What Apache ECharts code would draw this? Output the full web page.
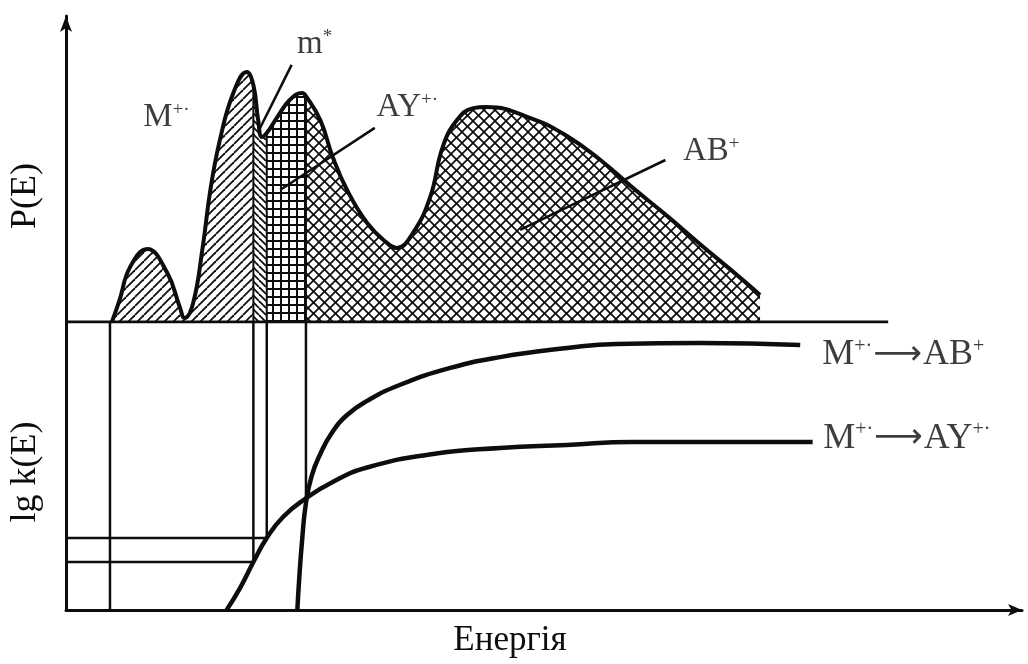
<!DOCTYPE html>
<html>
<head>
<meta charset="utf-8">
<script src="https://cdn.jsdelivr.net/npm/echarts@6/dist/echarts.min.js"></script>
<style>
  html, body { margin: 0; padding: 0; background: #fff; }
  #chart { width: 1028px; height: 664px; }
</style>
</head>
<body>
<div id="chart"></div>
<script>
// P(E): internal energy distribution of the molecular ion (upper panel)
const pCurve = [
  [4.8, 0], [5.6, 7.3], [6.7, 18.3], [8.5, 24.3], [10.6, 16.3], [11.9, 5], [12.4, 1.3],
  [13.3, 6.3], [14.3, 25], [15.1, 44], [16.1, 60.7], [17.5, 76.3], [18.9, 83.3],
  [19.6, 79], [20.1, 67.3], [20.5, 61.7], [21.0, 63], [22.1, 68.3], [23.4, 74],
  [24.7, 76.3], [25.1, 75.3], [26.6, 67.3], [27.9, 55], [29.4, 44], [31.5, 33],
  [33.6, 26.3], [34.6, 24.7], [36.3, 29.7], [38.1, 41.7], [39.4, 58.3], [40.9, 67.3],
  [42.6, 71.3], [44.0, 71.7], [48.8, 67.7], [52.4, 62], [55.9, 54], [59.3, 44.7],
  [62.9, 35.3], [66.3, 26], [69.8, 16.7], [72.6, 9]
];
// energy edges of the four shaded ion regions: M+·, m*, AY+·, AB+
const regionEdges = [4.8, 19.6, 21.0, 25.1, 72.6];
const regionHatch = ['fwd', 'back', 'grid', 'cross'];
// end of the P(E) baseline
const baselineEnd = 86;

// lg k(E) for the two decomposition channels (lower panel)
const kAB = [
  [24.2, 0], [24.4, 10.7], [24.7, 23.3], [25.1, 35.7], [25.7, 44.7], [26.6, 52],
  [27.8, 59], [29.4, 65], [31.5, 69.7], [34.9, 75], [40.2, 80.7], [45.4, 84.3],
  [52.4, 87.3], [57.6, 88.7], [66.3, 89], [76.8, 88.3]
];
const kAY = [
  [16.8, 0], [18.2, 7.3], [19.6, 16], [21.0, 24], [22.7, 31], [25.0, 37],
  [27.9, 42.7], [31.5, 47.5], [38.4, 52], [45.4, 54], [52.4, 55], [59.3, 56],
  [78.1, 56]
];
// threshold construction: vertical drops [energy, lg k where they stop]
const dropLines = [[4.6, 0], [19.6, 16], [21.0, 24], [25.1, 36.7]];
// horizontal reads onto the lg k axis [lg k, energy where they stop]
const readLines = [[16, 19.6], [24, 21.0]];

// labels (rich-text markup) and their anchors in data units
const upperLabels = [
  { text: '{t|M}{s|+·}', at: [10.5, 68.3] },
  { text: '{t|m}{s|*}', at: [26.0, 92.7] },
  { text: '{t|AY}{s|+·}', at: [35.7, 71.7] },
  { text: '{t|AB}{s|+}', at: [67.5, 57] }
];
const leaders = [
  [[23.6, 85.7], [20.2, 64]],
  [[32.3, 64.7], [22.4, 44]],
  [[62.7, 54], [47.5, 30.7]]
];
const channelLabels = [
  { text: '{T|M}{S|+·}{a|⟶}{T|AB}{S|+}', at: [79.1, 85] },
  { text: '{T|M}{S|+·}{a|⟶}{T|AY}{S|+·}', at: [79.2, 57.3] }
];

const INK = '#0d0d0d';
const SERIF = '"Liberation Serif", "DejaVu Serif", serif';

// tiled hatch patterns for the shaded areas
function hatch(kind) {
  const size = { fwd: 9, back: 7, grid: 8, cross: 11 }[kind];
  const c = document.createElement('canvas');
  c.width = c.height = size;
  const g = c.getContext('2d');
  g.strokeStyle = INK;
  g.fillStyle = INK;
  g.lineWidth = kind === 'cross' ? 1.7 : 1.8;
  const diag = (up) => {
    for (const o of [-size, 0, size]) {
      g.beginPath();
      if (up) { g.moveTo(o, size); g.lineTo(o + size, 0); }
      else { g.moveTo(o, 0); g.lineTo(o + size, size); }
      g.stroke();
    }
  };
  if (kind === 'fwd') diag(true);
  if (kind === 'back') diag(false);
  if (kind === 'cross') { diag(true); diag(false); }
  if (kind === 'grid') { g.fillRect(0, 0, 2, size); g.fillRect(0, 0, size, 2); }
  return c;
}

const richStyles = {
  t: { fontFamily: SERIF, fontSize: 33, color: INK },
  s: { fontFamily: SERIF, fontSize: 19, color: INK, verticalAlign: 'top' },
  T: { fontFamily: SERIF, fontSize: 36, color: INK },
  S: { fontFamily: SERIF, fontSize: 20, color: INK, verticalAlign: 'top' },
  a: { fontFamily: '"DejaVu Sans", sans-serif', fontSize: 34, color: INK, padding: [0, 1, 0, 1] }
};

const series = [];

// shaded regions under P(E)
for (let i = 0; i < regionHatch.length; i++) {
  const a = regionEdges[i], b = regionEdges[i + 1];
  series.push({
    type: 'line', xAxisIndex: 0, yAxisIndex: 0, z: 1,
    smooth: 0.45, symbol: 'none', silent: true,
    lineStyle: { width: 0 },
    areaStyle: { color: { image: hatch(regionHatch[i]), repeat: 'repeat' }, opacity: 1 },
    data: pCurve.filter(p => p[0] >= a && p[0] <= b)
  });
}

// P(E) outline
series.push({
  type: 'line', xAxisIndex: 0, yAxisIndex: 0, z: 4,
  smooth: 0.45, symbol: 'none', silent: true,
  lineStyle: { color: INK, width: 4 },
  data: pCurve
});

// P(E) baseline
series.push({
  type: 'line', xAxisIndex: 0, yAxisIndex: 0, z: 5, symbol: 'none', silent: true,
  lineStyle: { color: INK, width: 3 },
  data: [[0, 0], [baselineEnd, 0]]
});

// region borders in the upper panel
regionEdges.slice(1, 4).forEach(x => {
  const top = pCurve.find(p => p[0] === x)[1];
  series.push({
    type: 'line', xAxisIndex: 0, yAxisIndex: 0, z: 3, symbol: 'none', silent: true,
    lineStyle: { color: INK, width: 2 },
    data: [[x, 0], [x, top]]
  });
});

// vertical drops in the lower panel
dropLines.forEach(([x, k]) => {
  series.push({
    type: 'line', xAxisIndex: 1, yAxisIndex: 1, z: 3, symbol: 'none', silent: true,
    lineStyle: { color: INK, width: 2.5 },
    data: [[x, k], [x, 96]]
  });
});

// horizontal reads onto the lg k axis
readLines.forEach(([k, x]) => {
  series.push({
    type: 'line', xAxisIndex: 1, yAxisIndex: 1, z: 3, symbol: 'none', silent: true,
    lineStyle: { color: INK, width: 2.5 },
    data: [[0, k], [x, k]]
  });
});

// lg k(E) curves
[kAB, kAY].forEach(d => {
  series.push({
    type: 'line', xAxisIndex: 1, yAxisIndex: 1, z: 4,
    smooth: 0.5, symbol: 'none', silent: true,
    lineStyle: { color: INK, width: 4.5 },
    data: d
  });
});

// leader lines from labels to regions
leaders.forEach(d => {
  series.push({
    type: 'line', xAxisIndex: 0, yAxisIndex: 0, z: 6, symbol: 'none', silent: true,
    lineStyle: { color: INK, width: 2.5 },
    data: d
  });
});

// region labels
series.push({
  type: 'scatter', xAxisIndex: 0, yAxisIndex: 0, z: 7, silent: true,
  symbolSize: 1, itemStyle: { color: 'transparent' },
  label: { show: true, position: 'inside', formatter: p => p.data.text, rich: richStyles },
  data: upperLabels.map(l => ({ value: l.at, text: l.text }))
});

// channel labels
series.push({
  type: 'scatter', xAxisIndex: 1, yAxisIndex: 1, z: 7, silent: true,
  symbolSize: 1, itemStyle: { color: 'transparent' },
  label: { show: true, position: 'inside', align: 'left', formatter: p => p.data.text, rich: richStyles },
  data: channelLabels.map(l => ({ value: l.at, text: l.text }))
});

const hidden = { axisLine: { show: false }, axisTick: { show: false }, axisLabel: { show: false }, splitLine: { show: false } };
const nameStyle = { fontFamily: SERIF, fontSize: 36, color: INK };

const option = {
  backgroundColor: '#fff',
  animation: false,
  grid: [
    { left: 66, right: 6, top: 16, height: 306 },
    { left: 66, right: 6, top: 322, height: 288 }
  ],
  xAxis: [
    Object.assign({ type: 'value', gridIndex: 0, min: 0, max: 100 }, hidden),
    {
      type: 'value', gridIndex: 1, min: 0, max: 100,
      axisLine: { show: true, symbol: ['none', 'arrow'], symbolSize: [9, 14], lineStyle: { color: INK, width: 3 } },
      axisTick: { show: false }, axisLabel: { show: false }, splitLine: { show: false },
      name: 'Енергія', nameLocation: 'middle', nameGap: 13,
      nameTextStyle: Object.assign({}, nameStyle, { fontSize: 35, padding: [0, 68, 0, 0] })
    }
  ],
  yAxis: [
    {
      type: 'value', gridIndex: 0, min: 0, max: 102,
      axisLine: { show: true, symbol: ['none', 'arrow'], symbolSize: [9, 16], lineStyle: { color: INK, width: 3 } },
      axisTick: { show: false }, axisLabel: { show: false }, splitLine: { show: false },
      name: 'P(E)', nameLocation: 'middle', nameGap: 22, nameRotate: 90,
      nameTextStyle: Object.assign({}, nameStyle, { padding: [0, 54, 0, 0] })
    },
    {
      type: 'value', gridIndex: 1, min: 0, max: 96,
      axisLine: { show: true, lineStyle: { color: INK, width: 3 } },
      axisTick: { show: false }, axisLabel: { show: false }, splitLine: { show: false },
      name: 'lg k(E)', nameLocation: 'middle', nameGap: 22, nameRotate: 90,
      nameTextStyle: Object.assign({}, nameStyle, { padding: [0, 12, 0, 0] })
    }
  ],
  series: series
};

const chart = echarts.init(document.getElementById('chart'), null, { renderer: 'canvas' });
chart.setOption(option);
</script>
</body>
</html>
